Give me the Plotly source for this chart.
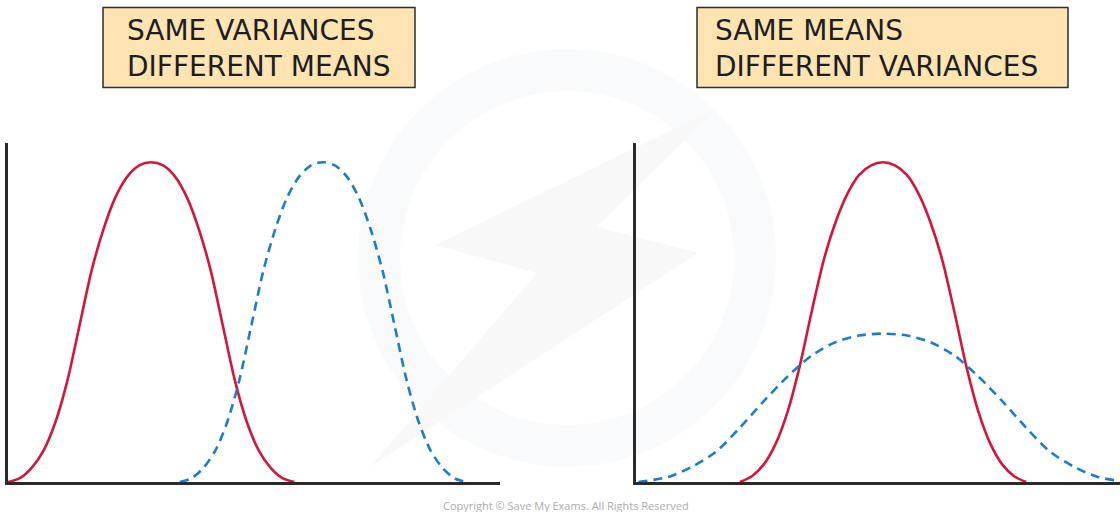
import plotly.graph_objects as go

# ---------------- data ----------------
# Left panel: same variances, different means
red_left_x = [0.0, 0.25, 0.5, 0.75, 1.0, 1.25, 1.5, 1.75, 2.0, 2.25, 2.5, 2.75, 3.0,
              3.25, 3.5, 3.75, 4.0, 4.25, 4.5, 4.75, 5.0, 5.25, 5.5, 5.75, 6.0]
red_left_y = [0.0, 0.012, 0.045, 0.10, 0.19, 0.32, 0.49, 0.66, 0.79, 0.89, 0.955, 0.99, 1.0,
              0.99, 0.955, 0.89, 0.79, 0.66, 0.49, 0.32, 0.19, 0.10, 0.045, 0.012, 0.0]

blue_left_x = [3.6, 3.85, 4.1, 4.35, 4.6, 4.85, 5.1, 5.35, 5.6, 5.85, 6.1, 6.35, 6.6,
               6.85, 7.1, 7.35, 7.6, 7.85, 8.1, 8.35, 8.6, 8.85, 9.1, 9.35, 9.6]
blue_left_y = [0.0, 0.012, 0.045, 0.10, 0.19, 0.32, 0.49, 0.66, 0.79, 0.89, 0.955, 0.99, 1.0,
               0.99, 0.955, 0.89, 0.79, 0.66, 0.49, 0.32, 0.19, 0.10, 0.045, 0.012, 0.0]

# Right panel: same means, different variances
red_right_x = [2.18, 2.43, 2.68, 2.93, 3.18, 3.43, 3.68, 3.93, 4.18, 4.43, 4.68, 4.93, 5.18,
               5.43, 5.68, 5.93, 6.18, 6.43, 6.68, 6.93, 7.18, 7.43, 7.68, 7.93, 8.18]
red_right_y = [0.0, 0.018, 0.055, 0.12, 0.22, 0.36, 0.53, 0.69, 0.81, 0.90, 0.96, 0.99, 1.0,
               0.99, 0.96, 0.90, 0.81, 0.69, 0.53, 0.36, 0.22, 0.12, 0.055, 0.018, 0.0]

blue_right_x = [0.05, 0.68, 1.18, 1.68, 2.18, 2.68, 3.18, 3.68, 4.18, 4.68, 5.18,
                5.68, 6.18, 6.68, 7.18, 7.68, 8.18, 8.68, 9.18, 9.68, 10.3]
blue_right_y = [0.0, 0.016, 0.048, 0.095, 0.17, 0.253, 0.33, 0.395, 0.437, 0.458, 0.464,
                0.458, 0.437, 0.395, 0.33, 0.253, 0.17, 0.095, 0.048, 0.016, 0.0]

titles_left = ["SAME VARIANCES", "DIFFERENT MEANS"]
titles_right = ["SAME MEANS", "DIFFERENT VARIANCES"]
copyright_text = "Copyright © Save My Exams. All Rights Reserved"

# ---------------- styling ----------------
W, H = 1120, 512
RED = "#d3163a"
BLUE = "#1f7dc8"
AXIS = "#2a2a2a"
BOX_FILL = "#fde4b2"

def px_x(p):
    return p / W

def px_y(p):
    return (H - p) / H

fig = go.Figure()

fig.add_trace(go.Scatter(x=red_left_x, y=red_left_y, mode="lines",
                         line=dict(color=RED, width=2.6, shape="spline", smoothing=0.8),
                         xaxis="x", yaxis="y", hoverinfo="skip"))
fig.add_trace(go.Scatter(x=blue_left_x, y=blue_left_y, mode="lines",
                         line=dict(color=BLUE, width=2.6, dash="9px,6px", shape="spline", smoothing=0.8),
                         xaxis="x", yaxis="y", hoverinfo="skip"))
fig.add_trace(go.Scatter(x=red_right_x, y=red_right_y, mode="lines",
                         line=dict(color=RED, width=2.6, shape="spline", smoothing=0.8),
                         xaxis="x2", yaxis="y2", hoverinfo="skip"))
fig.add_trace(go.Scatter(x=blue_right_x, y=blue_right_y, mode="lines",
                         line=dict(color=BLUE, width=2.6, dash="9px,6px", shape="spline", smoothing=0.8),
                         xaxis="x2", yaxis="y2", hoverinfo="skip"))

axis_common = dict(showline=True, linewidth=3, linecolor=AXIS, showgrid=False,
                   zeroline=False, showticklabels=False, ticks="", fixedrange=True,
                   layer="below traces")

y_dom = [px_y(482), px_y(143)]

fig.update_layout(
    width=W, height=H,
    margin=dict(l=0, r=0, t=0, b=0),
    paper_bgcolor="white", plot_bgcolor="rgba(0,0,0,0)",
    showlegend=False,
    xaxis=dict(domain=[px_x(8), px_x(500)], range=[0, 10.31], anchor="y", **axis_common),
    yaxis=dict(domain=y_dom, range=[0, 1.06], anchor="x", **axis_common),
    xaxis2=dict(domain=[px_x(636), 1.0], range=[0, 10.15], anchor="y2", **axis_common),
    yaxis2=dict(domain=y_dom, range=[0, 1.06], anchor="x2", **axis_common),
)

# faint watermark bolt (pixel outline converted to paper coords)
bolt_px = [(370, 467), (537, 273), (435, 245), (717, 108), (597, 227), (698, 253)]
bolt_path = "M " + " L ".join(f"{px_x(a):.4f},{px_y(b):.4f}" for a, b in bolt_px) + " Z"

shapes = [
    # faint watermark ring
    dict(type="circle", xref="paper", yref="paper", layer="below",
         x0=px_x(567 - 188), x1=px_x(567 + 188), y0=px_y(258 + 188), y1=px_y(258 - 188),
         line=dict(color="#f8fafc", width=42), fillcolor="rgba(0,0,0,0)"),
    dict(type="path", xref="paper", yref="paper", layer="below", path=bolt_path,
         fillcolor="#f8f8f9", line=dict(width=0)),
    # title boxes
    dict(type="rect", xref="paper", yref="paper",
         x0=px_x(103), x1=px_x(415), y0=px_y(87.5), y1=px_y(7.5),
         fillcolor=BOX_FILL, line=dict(color="#2e2e2e", width=1.5)),
    dict(type="rect", xref="paper", yref="paper",
         x0=px_x(697), x1=px_x(1068), y0=px_y(87.5), y1=px_y(7.5),
         fillcolor=BOX_FILL, line=dict(color="#2e2e2e", width=1.5)),
]
fig.update_layout(shapes=shapes)

title_font = dict(family="DejaVu Sans", size=28, color="#1e1e1e")
fig.add_annotation(xref="paper", yref="paper", x=px_x(125), y=px_y(48),
                   xanchor="left", yanchor="middle", align="left", showarrow=False,
                   text="<br>".join(titles_left), font=title_font)
fig.add_annotation(xref="paper", yref="paper", x=px_x(713), y=px_y(48),
                   xanchor="left", yanchor="middle", align="left", showarrow=False,
                   text="<br>".join(titles_right), font=title_font)
fig.add_annotation(xref="paper", yref="paper", x=px_x(566), y=px_y(505),
                   xanchor="center", yanchor="middle", showarrow=False,
                   text=copyright_text,
                   font=dict(family="Open Sans", size=11, color="#ababab"))

fig.write_html("out.html",
               config={"displayModeBar": False, "staticPlot": True},
               post_script="document.body.style.margin='0';document.body.style.overflow='hidden';")
